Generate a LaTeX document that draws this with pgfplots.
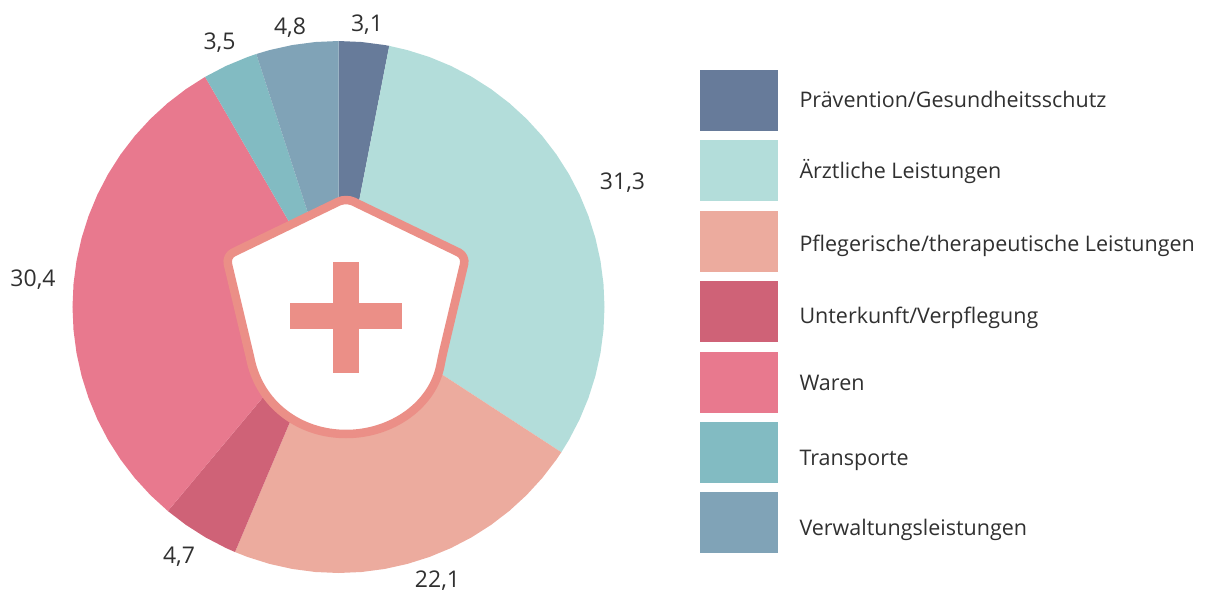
\documentclass[border=0pt]{standalone}
\usepackage{fontspec}
\setmainfont{Open Sans}
\usepackage{pgfplots}
\pgfplotsset{compat=1.18}
\usepgfplotslibrary{polar}
\definecolor{cA}{HTML}{677B9A}
\definecolor{cB}{HTML}{B3DDDA}
\definecolor{cC}{HTML}{ECAB9E}
\definecolor{cD}{HTML}{CF6277}
\definecolor{cE}{HTML}{E8798E}
\definecolor{cF}{HTML}{82BBC2}
\definecolor{cG}{HTML}{80A3B7}
\definecolor{shield}{HTML}{EB8F87}
\definecolor{txt}{HTML}{303030}
\newcommand{\lgt}[2]{\raisebox{#1}[0pt][0pt]{#2}}
\begin{document}
\begin{tikzpicture}[x=1pt,y=1pt]
\path[use as bounding box] (0pt,0pt) rectangle (1206pt,592pt);
\begin{polaraxis}[
  at={(338.5pt,285pt)}, anchor=center,
  scale only axis, width=532pt, height=532pt,
  xmin=0, xmax=360, ymin=0, ymax=266,
  hide axis, clip=false,
  legend cell align=left,
  legend image code/.code={\fill[#1] (0pt,-23pt) rectangle (78pt,38pt);},
  legend style={
    at={(1.17857,0.94549)}, anchor=north west,
    draw=none, fill=none, inner sep=0pt, outer sep=0pt,
    row sep=9.4pt,
    font=\fontsize{21.5}{26}\selectfont,
    text=txt,
    nodes={inner sep=0pt, outer sep=0pt},
    /tikz/every odd column/.append style={column sep=22pt},
  },
]
\addplot[fill=cA,draw=none] coordinates {(0,0) (90,266) (85,266) (80,266) (79,266)} -- cycle;
\addplot[fill=cB,draw=none] coordinates {(0,0) (79,266) (75,266) (70,266) (65,266) (60,266) (55,266) (50,266) (45,266) (40,266) (35,266) (30,266) (25,266) (20,266) (15,266) (10,266) (5,266) (0,266) (-5,266) (-10,266) (-15,266) (-20,266) (-25,266) (-30,266) (-33.1,266)} -- cycle;
\addplot[fill=cC,draw=none] coordinates {(0,0) (-33.1,266) (-35,266) (-40,266) (-45,266) (-50,266) (-55,266) (-60,266) (-65,266) (-70,266) (-75,266) (-80,266) (-85,266) (-90,266) (-95,266) (-100,266) (-105,266) (-110,266) (-112.9,266)} -- cycle;
\addplot[fill=cD,draw=none] coordinates {(0,0) (-112.9,266) (-115,266) (-120,266) (-125,266) (-129.9,266)} -- cycle;
\addplot[fill=cE,draw=none] coordinates {(0,0) (-129.9,266) (-135,266) (-140,266) (-145,266) (-150,266) (-155,266) (-160,266) (-165,266) (-170,266) (-175,266) (-180,266) (-185,266) (-190,266) (-195,266) (-200,266) (-205,266) (-210,266) (-215,266) (-220,266) (-225,266) (-230,266) (-235,266) (-239.9,266)} -- cycle;
\addplot[fill=cF,draw=none] coordinates {(0,0) (-239.9,266) (-245,266) (-250,266) (-252,266)} -- cycle;
\addplot[fill=cG,draw=none] coordinates {(0,0) (-252,266) (-255,266) (-260,266) (-265,266) (-270,266)} -- cycle;
\legend{\lgt{0pt}{Prävention/Gesundheitsschutz},\lgt{-0.7pt}{Ärztliche Leistungen},\lgt{-3pt}{Pflegerische/therapeutische Leistungen},\lgt{-5.3pt}{Unterkunft/Verpflegung},\lgt{-1.7pt}{Waren},\lgt{-6pt}{Transporte},\lgt{-5.7pt}{Verwaltungsleistungen}}
\end{polaraxis}
\begin{scope}[shift={(0pt,592pt)},x=1pt,y=-1pt]
  \draw[shield,line width=8.5pt,fill=white,line join=round]
    (346,434) .. controls (300,434) and (259,405) .. (250,357)
    [rounded corners=8pt] -- (226,256) -- (346,198) -- (466,256) -- (442,357)
    [sharp corners] .. controls (433,405) and (392,434) .. (346,434) -- cycle;
  \fill[shield] (333.3,261.7) rectangle (359,372.7);
  \fill[shield] (290,303.3) rectangle (401.7,329);
  \begin{scope}[every node/.style={font=\fontsize{23}{27}\selectfont,text=txt,inner sep=0pt,anchor=base}]
    \node at (367,32) {3,1};
    \node at (622.5,190) {31,3};
    \node at (437.5,587.5) {22,1};
    \node at (179,563) {4,7};
    \node at (33,286.7) {30,4};
    \node at (219.5,50) {3,5};
    \node at (290,35) {4,8};
  \end{scope}
\end{scope}
\end{tikzpicture}
\end{document}
